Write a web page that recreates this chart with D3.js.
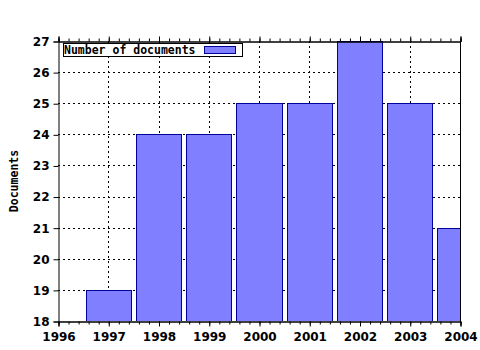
<!DOCTYPE html>
<html>
<head>
<meta charset="utf-8">
<script src="https://cdn.jsdelivr.net/npm/d3@7"></script>
<style>
  body { margin: 0; background: white; }
</style>
</head>
<body>
<script>
const years = [1997, 1998, 1999, 2000, 2001, 2002, 2003, 2004];
const documents = [19, 24, 24, 25, 25, 27, 25, 21];
const yTicks = [18, 19, 20, 21, 22, 23, 24, 25, 26, 27];
const xTicks = [1996, 1997, 1998, 1999, 2000, 2001, 2002, 2003, 2004];
const seriesName = "Number of documents";

const data = years.map((yr, i) => ({year: yr, value: documents[i]}));

const plotLeft = 58, plotRight = 460, plotTop = 41, plotBottom = 321;

const svg = d3.select("body").append("svg")
    .attr("width", 480)
    .attr("height", 350)
    .style("background", "white");

const x = d3.scaleLinear().domain([1996, 2004]).range([plotLeft, plotRight]);
const y = d3.scaleLinear().domain([18, 27]).range([plotBottom, plotTop]);

svg.append("clipPath").attr("id", "plot")
    .append("rect")
    .attr("x", plotLeft).attr("y", plotTop)
    .attr("width", plotRight - plotLeft).attr("height", plotBottom - plotTop);

// grid
svg.append("g").selectAll("line")
    .data(yTicks.slice(1, -1))
    .join("line")
    .attr("x1", plotLeft).attr("x2", plotRight)
    .attr("y1", d => Math.round(y(d)) + 0.5).attr("y2", d => Math.round(y(d)) + 0.5)
    .style("stroke", "black")
    .style("stroke-dasharray", "2,3");

svg.append("g").selectAll("line")
    .data(xTicks.slice(1, -1))
    .join("line")
    .attr("y1", plotTop).attr("y2", plotBottom)
    .attr("x1", d => Math.round(x(d)) + 0.5).attr("x2", d => Math.round(x(d)) + 0.5)
    .style("stroke", "black")
    .style("stroke-dasharray", "2,3");

// bars
svg.append("g").attr("clip-path", "url(#plot)")
    .selectAll("rect")
    .data(data)
    .join("rect")
    .attr("x", d => Math.round(x(d.year - 0.45)) + 0.5)
    .attr("width", d => Math.round(x(d.year + 0.45)) - Math.round(x(d.year - 0.45)))
    .attr("y", d => Math.round(y(d.value)) + 0.5)
    .attr("height", d => Math.round(y(18)) - Math.round(y(d.value)))
    .style("fill", "#7f7fff")
    .style("stroke", "#00009c")
    .style("stroke-width", 1);

// axes
const minor = d3.range(1996, 2004.001, 0.2);

const bottomAxis = svg.append("g").attr("transform", `translate(0.5,${plotBottom + 0.5})`);
bottomAxis.append("g").call(d3.axisBottom(x).tickValues(minor).tickSize(3).tickFormat(""));
bottomAxis.append("g").call(d3.axisBottom(x).tickValues(xTicks).tickSize(5).tickFormat(d3.format("d")));
bottomAxis.selectAll("text")
    .attr("y", 11)
    .style("font-family", "DejaVu Sans")
    .style("font-weight", "bold")
    .style("font-size", "12px")
    .style("fill", "black");

const topAxis = svg.append("g").attr("transform", `translate(0.5,${plotTop + 0.5})`);
topAxis.append("g").call(d3.axisTop(x).tickValues(minor).tickSize(3).tickFormat(""));
topAxis.append("g").call(d3.axisTop(x).tickValues(xTicks).tickSize(5).tickFormat(""));

const leftAxis = svg.append("g").attr("transform", `translate(${plotLeft + 0.5},0.5)`);
leftAxis.call(d3.axisLeft(y).tickValues(yTicks).tickSize(5).tickPadding(4).tickFormat(d3.format("d")));
leftAxis.selectAll("text")
    .style("font-family", "DejaVu Sans")
    .style("font-weight", "bold")
    .style("font-size", "12px")
    .style("fill", "black");

svg.append("line")
    .attr("x1", plotRight + 0.5).attr("x2", plotRight + 0.5)
    .attr("y1", plotTop).attr("y2", plotBottom + 1)
    .style("stroke", "black");

svg.selectAll(".domain").style("stroke", "black");
svg.selectAll(".tick line").style("stroke", "black");

// y title
svg.append("text")
    .attr("transform", `translate(18,${(plotTop + plotBottom) / 2}) rotate(-90)`)
    .attr("text-anchor", "middle")
    .style("font-family", "DejaVu Sans Mono")
    .style("font-weight", "bold")
    .style("font-size", "11.5px")
    .text("Documents");

// legend
const legend = svg.append("g");
legend.append("rect")
    .attr("x", 63.5).attr("y", 43.5)
    .attr("width", 179).attr("height", 13)
    .style("fill", "white")
    .style("stroke", "black");
legend.append("text")
    .attr("x", 64).attr("y", 54)
    .style("font-family", "DejaVu Sans Mono")
    .style("font-weight", "bold")
    .style("font-size", "11.5px")
    .text(seriesName);
legend.append("rect")
    .attr("x", 204.5).attr("y", 46.5)
    .attr("width", 31).attr("height", 7)
    .style("fill", "#7f7fff")
    .style("stroke", "#00009c");
</script>
</body>
</html>
